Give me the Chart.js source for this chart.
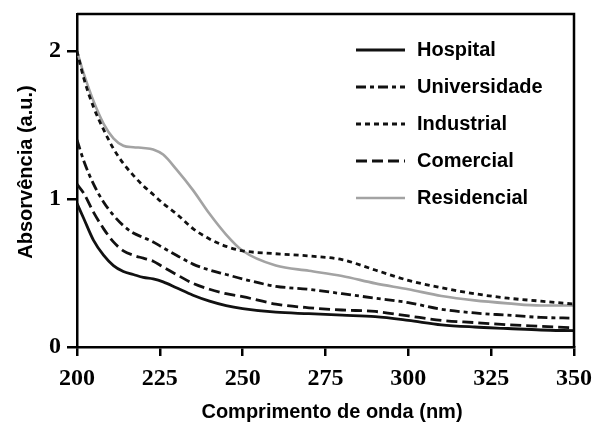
<!DOCTYPE html>
<html>
<head>
<meta charset="utf-8">
<script src="https://cdn.jsdelivr.net/npm/chart.js@4/dist/chart.umd.min.js"></script>
<style>
  html, body { margin: 0; padding: 0; background: #fff; }
  #wrap { width: 595px; height: 423px; }
</style>
</head>
<body>
<div id="wrap"><canvas id="c" width="595" height="423"></canvas></div>
<script>
const wavelengths = [200,202,205,208,211,214,217,220,223,226,230,235,240,245,250,260,270,280,290,300,310,320,330,340,350];
const hospital     = [0.97,0.87,0.72,0.62,0.55,0.51,0.49,0.47,0.46,0.44,0.40,0.35,0.31,0.28,0.26,0.235,0.225,0.215,0.205,0.18,0.15,0.135,0.125,0.115,0.11];
const universidade = [1.40,1.26,1.10,0.98,0.89,0.82,0.77,0.74,0.71,0.67,0.62,0.56,0.52,0.49,0.46,0.41,0.39,0.36,0.33,0.30,0.255,0.23,0.215,0.20,0.195];
const industrial   = [2.00,1.82,1.62,1.47,1.34,1.24,1.16,1.09,1.03,0.97,0.90,0.80,0.73,0.68,0.65,0.63,0.615,0.59,0.52,0.45,0.40,0.36,0.33,0.31,0.29];
const comercial    = [1.10,1.04,0.91,0.80,0.71,0.65,0.62,0.60,0.58,0.54,0.49,0.43,0.39,0.36,0.34,0.29,0.265,0.25,0.24,0.21,0.18,0.165,0.15,0.14,0.13];
const residencial  = [2.00,1.85,1.66,1.51,1.41,1.36,1.35,1.345,1.335,1.30,1.20,1.06,0.90,0.76,0.65,0.55,0.515,0.48,0.43,0.39,0.345,0.315,0.295,0.28,0.28];

const seriesNames = ['Hospital','Universidade','Industrial','Comercial','Residencial'];
const seriesValues = [hospital, universidade, industrial, comercial, residencial];
const xTicks = [200,225,250,275,300,325,350];
const yTicks = [0,1,2];
const xTitle = 'Comprimento de onda (nm)';
const yTitle = 'Absorvência (a.u.)';

const styles = [
  {color:'#111', dash:[], width:2.8},
  {color:'#111', dash:[10,4,4,4], width:2.8},
  {color:'#111', dash:[5,4], width:2.8},
  {color:'#111', dash:[11,5], width:2.8},
  {color:'#a3a3a3', dash:[], width:2.6}
];

const datasets = seriesNames.map((name, i) => ({
  label: name,
  data: wavelengths.map((w, j) => ({x: w, y: seriesValues[i][j]})),
  borderColor: styles[i].color,
  borderDash: styles[i].dash,
  borderWidth: styles[i].width,
  pointRadius: 0,
  fill: false,
  cubicInterpolationMode: 'monotone'
}));

const sansFont = "'Liberation Sans', Arial, sans-serif";
const serifFont = "'Liberation Serif', 'Times New Roman', serif";

const extras = {
  id: 'extras',
  afterDraw(chart) {
    const ctx = chart.ctx;
    const a = chart.chartArea;
    ctx.save();
    ctx.strokeStyle = '#000';
    ctx.lineWidth = 2.5;
    ctx.beginPath();
    ctx.moveTo(a.left, a.top);
    ctx.lineTo(a.right, a.top);
    ctx.lineTo(a.right, a.bottom);
    ctx.stroke();
    chart.data.datasets.forEach((ds, i) => {
      const y = 50 + i * 37;
      ctx.strokeStyle = ds.borderColor;
      ctx.lineWidth = ds.borderWidth;
      ctx.setLineDash(ds.borderDash);
      ctx.beginPath();
      ctx.moveTo(356, y);
      ctx.lineTo(405, y);
      ctx.stroke();
      ctx.setLineDash([]);
      ctx.fillStyle = '#000';
      ctx.font = "bold 20px " + sansFont;
      ctx.textBaseline = 'middle';
      ctx.textAlign = 'left';
      ctx.fillText(ds.label, 417, y);
    });
    ctx.fillStyle = '#000';
    ctx.font = "bold 20px " + sansFont;
    ctx.textAlign = 'center';
    ctx.textBaseline = 'middle';
    ctx.fillText(xTitle, 332, 412);
    ctx.translate(26, 172);
    ctx.rotate(-Math.PI / 2);
    ctx.fillText(yTitle, 0, 0);
    ctx.restore();
  }
};

function zeroPad(s) { s.paddingTop = 0; s.paddingBottom = 0; s.paddingLeft = 0; s.paddingRight = 0; }

new Chart(document.getElementById('c'), {
  type: 'line',
  data: { datasets },
  plugins: [extras],
  options: {
    responsive: false,
    animation: false,
    layout: { padding: { top: 14, right: 21, left: 0, bottom: 0 } },
    plugins: { legend: { display: false }, tooltip: { enabled: false } },
    scales: {
      x: {
        type: 'linear',
        min: 200, max: 350,
        afterBuildTicks: s => { s.ticks = xTicks.map(v => ({value: v})); },
        afterFit: s => { s.height = 76; zeroPad(s); },
        grid: { drawOnChartArea: false, drawTicks: true, tickLength: 9, color: '#000', lineWidth: 2.5 },
        border: { display: true, color: '#000', width: 2.5 },
        ticks: { color: '#000', padding: 8, maxRotation: 0, font: { family: serifFont, weight: 'bold', size: 24 } },
        title: { display: false }
      },
      y: {
        type: 'linear',
        min: 0, max: 2.25,
        afterBuildTicks: s => { s.ticks = yTicks.map(v => ({value: v})); },
        afterFit: s => { s.width = 77; zeroPad(s); },
        grid: { drawOnChartArea: false, drawTicks: true, tickLength: 10, color: '#000', lineWidth: 2.5 },
        border: { display: true, color: '#000', width: 2.5 },
        ticks: { color: '#000', padding: 6, font: { family: serifFont, weight: 'bold', size: 24 } },
        title: { display: false }
      }
    }
  }
});
</script>
</body>
</html>
